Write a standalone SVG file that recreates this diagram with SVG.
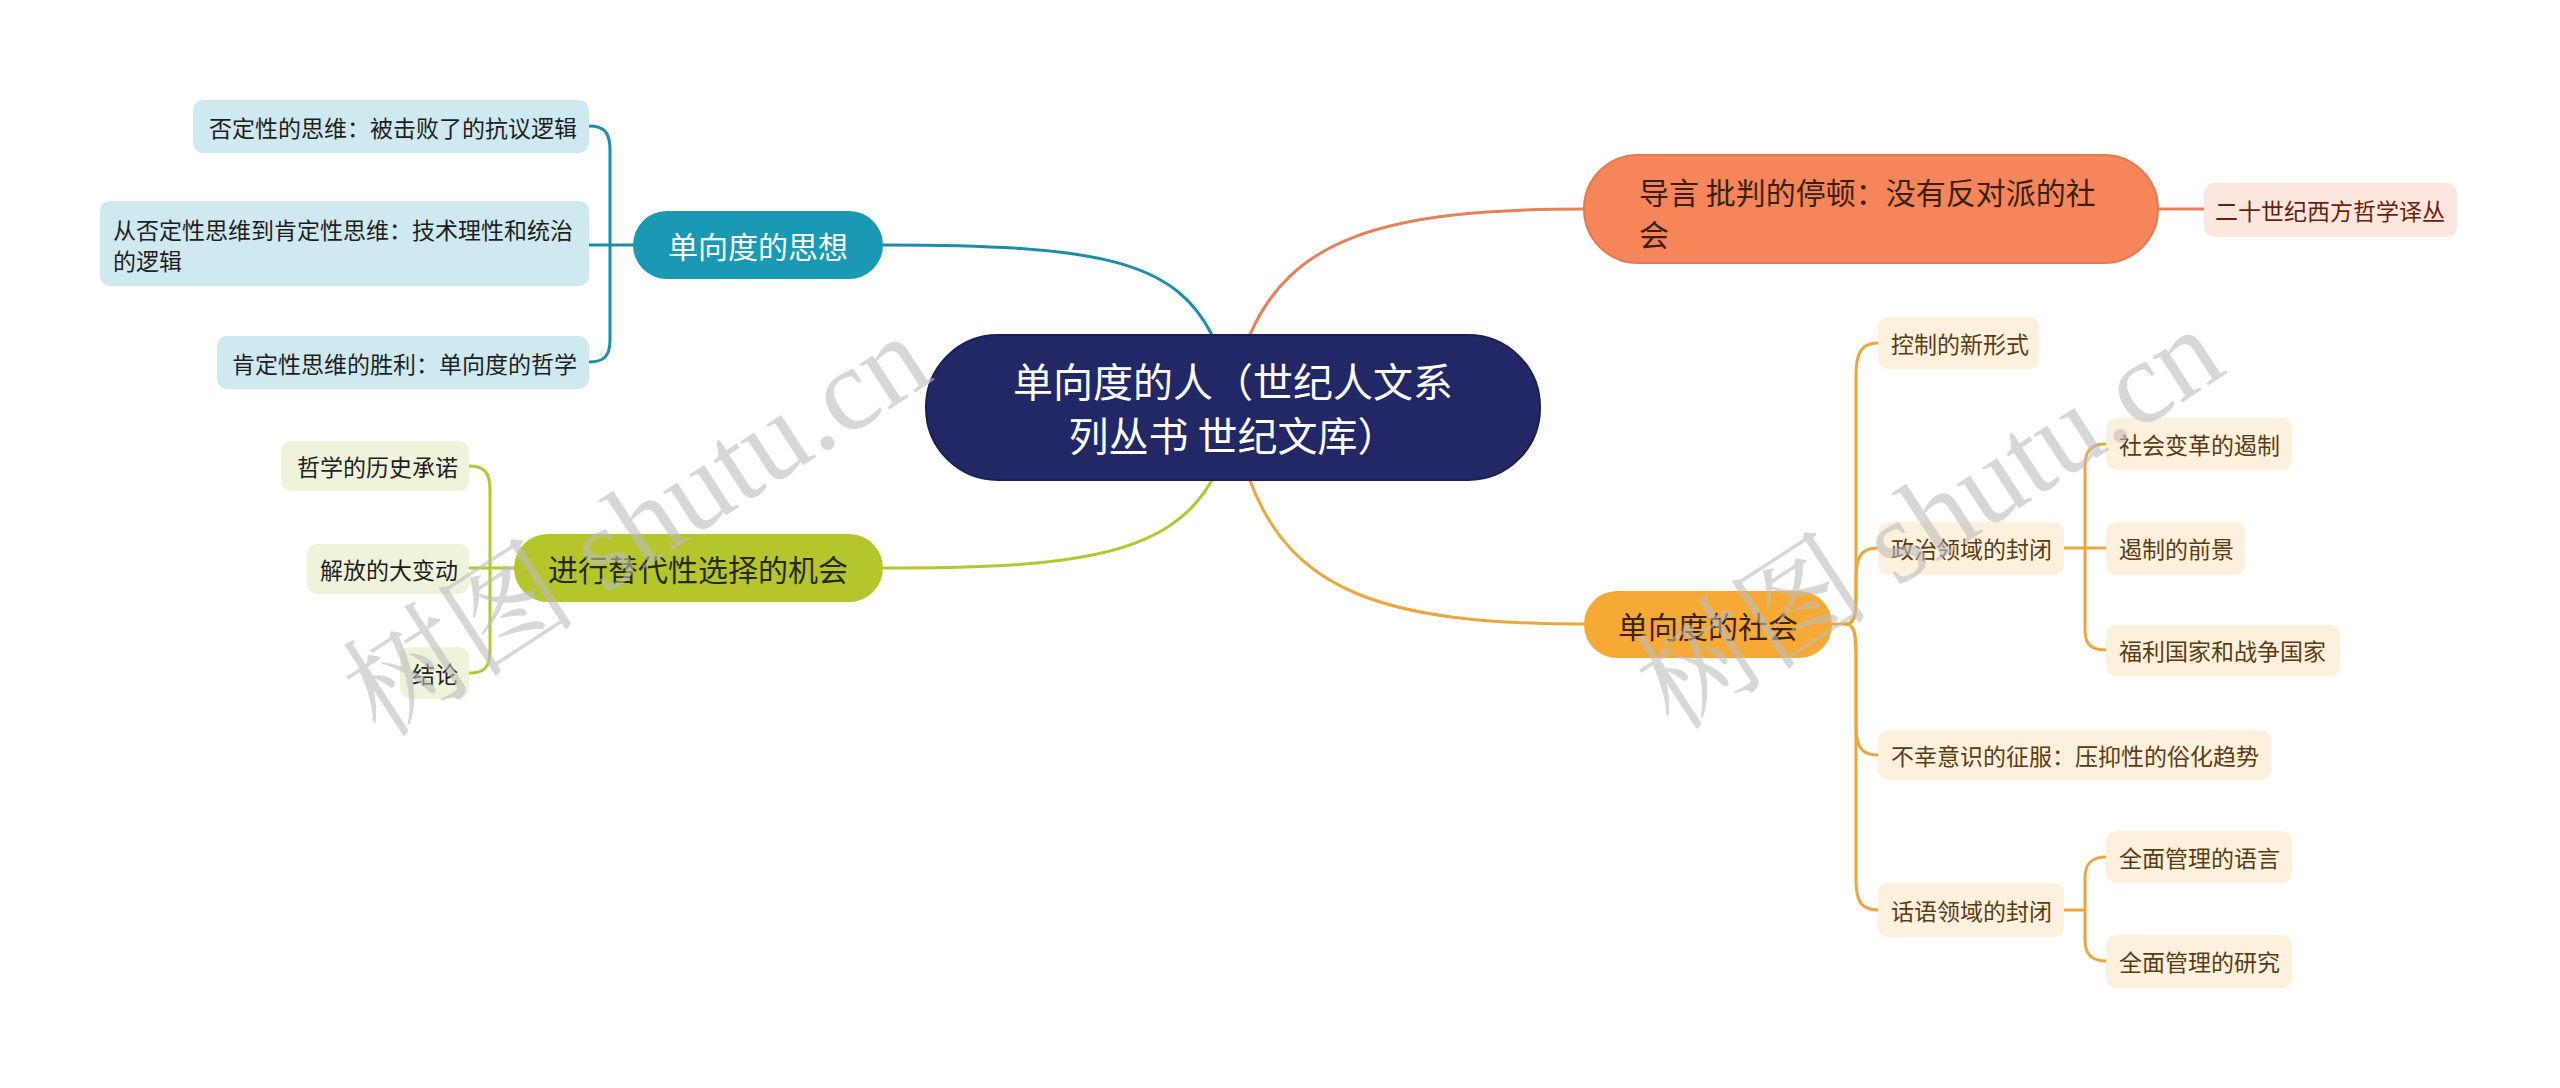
<svg xmlns="http://www.w3.org/2000/svg" width="2560" height="1088" viewBox="0 0 2560 1088">
<style>
text{font-family:"Noto Sans CJK SC","Noto Sans",sans-serif;}
.c{fill:none;stroke-width:3;stroke-linecap:round}
.t{stroke:#1a8fab}.g{stroke:#b3c72f}.o1{stroke:#e8805a}.o2{stroke:#f0a53a}
.lt{font-size:23px;dominant-baseline:central}
.br{font-size:30px;dominant-baseline:central}
.wm{font-family:"Liberation Serif","Noto Serif CJK SC","Noto Sans CJK SC",serif;font-size:118px;fill:#bdbdbd;opacity:0.6}
</style>
<rect width="2560" height="1088" fill="#ffffff"/>
<g id="connectors">
<path class="c t" d="M883 245 C1100 245 1175 260 1213 337"/>
<path class="c o1" d="M1249 337 C1290 240 1380 209 1584 209"/>
<path class="c g" d="M1213 478 C1170 560 1060 568 883 568"/>
<path class="c o2" d="M1249 478 C1290 590 1380 624 1584 624"/>
<path class="c t" d="M633 245 H589 M589 126 C604 126 610 132 610 150 V340 C610 356 604 362 589 362"/>
<path class="c g" d="M514 568 H469 M469 466 C484 466 490 472 490 490 V650 C490 668 484 673 469 673"/>
<path class="c o1" d="M2158 209 H2204"/>
<path class="c o2" d="M1832 624 H1846 C1856 624 1856 610 1856 590 V375 C1856 352 1862 343 1878 343"/>
<path class="c o2" d="M1846 624 C1856 624 1856 610 1856 595 V578 C1856 556 1862 548 1878 548"/>
<path class="c o2" d="M1846 624 C1856 624 1856 640 1856 660 V725 C1856 748 1862 755 1878 755"/>
<path class="c o2" d="M1846 624 C1856 624 1856 640 1856 660 V880 C1856 902 1862 910 1878 910"/>
<path class="c o2" d="M2064 548 H2106 M2106 444 C2092 444 2085 450 2085 466 V630 C2085 645 2092 650 2106 650"/>
<path class="c o2" d="M2064 910 H2085 M2106 857 C2092 857 2085 863 2085 878 V940 C2085 955 2092 961 2106 961"/>
</g>
<g id="center">
<rect x="926" y="335" width="614" height="145" rx="72" fill="#222766" stroke="#1b1f55" stroke-width="2"/>
<text x="1233" y="380" font-size="40" fill="#ffffff" text-anchor="middle" dominant-baseline="central">单向度的人（世纪人文系</text>
<text x="1233" y="434" font-size="40" fill="#ffffff" text-anchor="middle" dominant-baseline="central">列丛书 世纪文库）</text>
</g>
<g id="n-sixiang">
<rect x="633" y="211" width="250" height="68" rx="34" fill="#1a99b4"/>
<text class="br" x="758" y="245" fill="#ffffff" text-anchor="middle">单向度的思想</text>
</g>
<g id="n-sx1">
<rect x="193" y="100" width="396" height="53" rx="10" fill="#cfe9f1"/>
<text class="lt" x="577" y="127" fill="#1e1e1e" text-anchor="end">否定性的思维：被击败了的抗议逻辑</text>
</g>
<g id="n-sx2">
<rect x="100" y="201" width="489" height="85" rx="10" fill="#cfe9f1"/>
<text class="lt" x="113" y="229" fill="#1e1e1e">从否定性思维到肯定性思维：技术理性和统治</text>
<text class="lt" x="113" y="260" fill="#1e1e1e">的逻辑</text>
</g>
<g id="n-sx3">
<rect x="217" y="336" width="372" height="53" rx="10" fill="#cfe9f1"/>
<text class="lt" x="577" y="363" fill="#1e1e1e" text-anchor="end">肯定性思维的胜利：单向度的哲学</text>
</g>
<g id="n-jinxing">
<rect x="514" y="534" width="369" height="68" rx="34" fill="#b4c62b"/>
<text class="br" x="698" y="568" fill="#2a2a14" text-anchor="middle">进行替代性选择的机会</text>
</g>
<g id="n-jx1">
<rect x="281" y="441" width="188" height="50" rx="10" fill="#eef3da"/>
<text class="lt" x="458" y="466" fill="#1e1e1e" text-anchor="end">哲学的历史承诺</text>
</g>
<g id="n-jx2">
<rect x="307" y="544" width="162" height="50" rx="10" fill="#eef3da"/>
<text class="lt" x="458" y="569" fill="#1e1e1e" text-anchor="end">解放的大变动</text>
</g>
<g id="n-jx3">
<rect x="400" y="647" width="69" height="52" rx="10" fill="#eef3da"/>
<text class="lt" x="458" y="673" fill="#1e1e1e" text-anchor="end">结论</text>
</g>
<g id="n-daoyan">
<rect x="1584" y="155" width="574" height="108" rx="54" fill="#f7855a" stroke="#e8774e" stroke-width="2"/>
<text class="br" x="1639" y="191" fill="#3b1f10">导言 批判的停顿：没有反对派的社</text>
<text class="br" x="1639" y="233" fill="#3b1f10">会</text>
</g>
<g id="n-dy1">
<rect x="2204" y="183" width="253" height="54" rx="10" fill="#fde6dd"/>
<text class="lt" x="2330" y="210" fill="#6b1f0a" text-anchor="middle">二十世纪西方哲学译丛</text>
</g>
<g id="n-shehui">
<rect x="1584" y="591" width="248" height="67" rx="33" fill="#f6a935"/>
<text class="br" x="1708" y="625" fill="#3a2508" text-anchor="middle">单向度的社会</text>
</g>
<g id="n-sh1">
<rect x="1878" y="317" width="161" height="52" rx="10" fill="#fdf0dc"/>
<text class="lt" x="1891" y="343" fill="#5b3b12">控制的新形式</text>
</g>
<g id="n-sh2">
<rect x="1878" y="522" width="186" height="53" rx="10" fill="#fdf0dc"/>
<text class="lt" x="1891" y="548" fill="#5b3b12">政治领域的封闭</text>
</g>
<g id="n-sh3">
<rect x="1878" y="730" width="393" height="50" rx="10" fill="#fdf0dc"/>
<text class="lt" x="1891" y="755" fill="#5b3b12">不幸意识的征服：压抑性的俗化趋势</text>
</g>
<g id="n-sh4">
<rect x="1878" y="883" width="186" height="54" rx="10" fill="#fdf0dc"/>
<text class="lt" x="1891" y="910" fill="#5b3b12">话语领域的封闭</text>
</g>
<g id="n-sh21">
<rect x="2106" y="418" width="186" height="52" rx="10" fill="#fdf0dc"/>
<text class="lt" x="2119" y="444" fill="#5b3b12">社会变革的遏制</text>
</g>
<g id="n-sh22">
<rect x="2106" y="522" width="139" height="53" rx="10" fill="#fdf0dc"/>
<text class="lt" x="2119" y="548" fill="#5b3b12">遏制的前景</text>
</g>
<g id="n-sh23">
<rect x="2106" y="625" width="234" height="51" rx="10" fill="#fdf0dc"/>
<text class="lt" x="2119" y="650" fill="#5b3b12">福利国家和战争国家</text>
</g>
<g id="n-sh41">
<rect x="2106" y="831" width="186" height="52" rx="10" fill="#fdf0dc"/>
<text class="lt" x="2119" y="857" fill="#5b3b12">全面管理的语言</text>
</g>
<g id="n-sh42">
<rect x="2106" y="935" width="186" height="53" rx="10" fill="#fdf0dc"/>
<text class="lt" x="2119" y="961" fill="#5b3b12">全面管理的研究</text>
</g>
<g id="watermarks">
<text class="wm" text-anchor="middle" dominant-baseline="central" transform="translate(637 526) rotate(-33)">树图 shutu.cn</text>
<text class="wm" text-anchor="middle" dominant-baseline="central" transform="translate(1930 519) rotate(-33)">树图 shutu.cn</text>
</g>
</svg>
